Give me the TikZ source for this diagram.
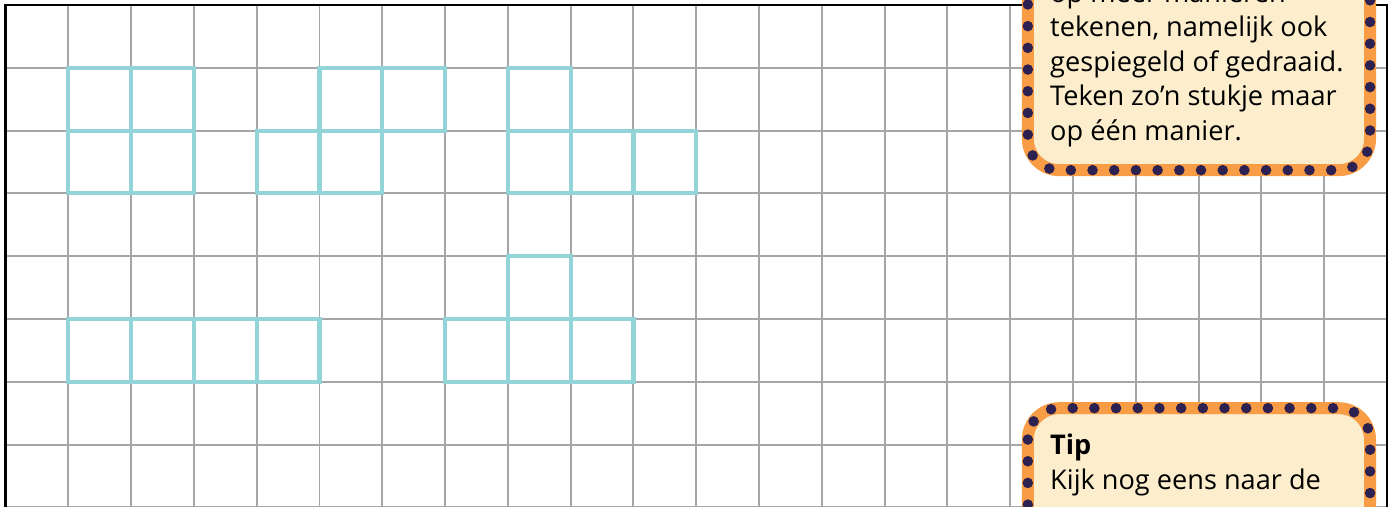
\documentclass[tikz,border=0pt]{standalone}
\usepackage{fontspec}
\setmainfont{Open Sans}
\usetikzlibrary{positioning}
\definecolor{gridgray}{HTML}{A6A6A9}
\definecolor{piece}{HTML}{93D4D9}
\definecolor{notebg}{HTML}{FCEDCD}
\definecolor{noteorange}{HTML}{F89C45}
\definecolor{notedot}{HTML}{2C2150}
\tikzset{
  gridline/.style={draw=gridgray,line width=0.9pt},
  border/.style={draw=black,line width=1.3pt},
  cell/.style={draw=piece,line width=1.9pt},
  notebox/.style={fill=notebg,draw=noteorange,line width=5.4pt,rounded corners=0.5cm},
  notedots/.style={draw=notedot,line width=4.8pt,line cap=round,
    dash pattern=on 0pt off 9.83pt,rounded corners=0.5cm},
  notetext/.style={font=\fontsize{12.3}{15.6}\selectfont,align=left,
    inner sep=0pt,anchor=base west},
}

\begin{document}
\begin{tikzpicture}
  \clip (-0.088,0.08) rectangle (22.08,-7.98);
  % squared paper
  \draw[gridline] (0,-8.5) grid (22,0);
  \draw[border] (0,-8.5) -- (0,0) -- (22,0) -- (22,-8.5);
  % the five pieces
  \foreach \c/\r in {1/1,2/1,1/2,2/2, 5/1,6/1,4/2,5/2, 8/1,8/2,9/2,10/2,
                     1/5,2/5,3/5,4/5, 8/4,7/5,8/5,9/5}
    \draw[cell] (\c,-\r) rectangle ++(1,-1);
  % note at the top
  \path[notebox] (16.28,1.2) rectangle (21.73,-2.63);
  \draw[notedots] (16.28,1.2) rectangle (21.73,-2.63);
  \node[notetext] (note) at (16.63,-2.15)
    {op meer manieren\\tekenen, namelijk ook\\gespiegeld of gedraaid.\\Teken zo’n stukje maar\\op één manier.};
  % tip at the bottom
  \path[notebox] (16.28,-6.42) rectangle (21.73,-9.5);
  \draw[notedots] (16.28,-6.42) rectangle (21.73,-9.5);
  \node[notetext] (tip) at (16.63,-7.71)
    {\textbf{Tip}\\Kijk nog eens naar de};
\end{tikzpicture}
\end{document}
